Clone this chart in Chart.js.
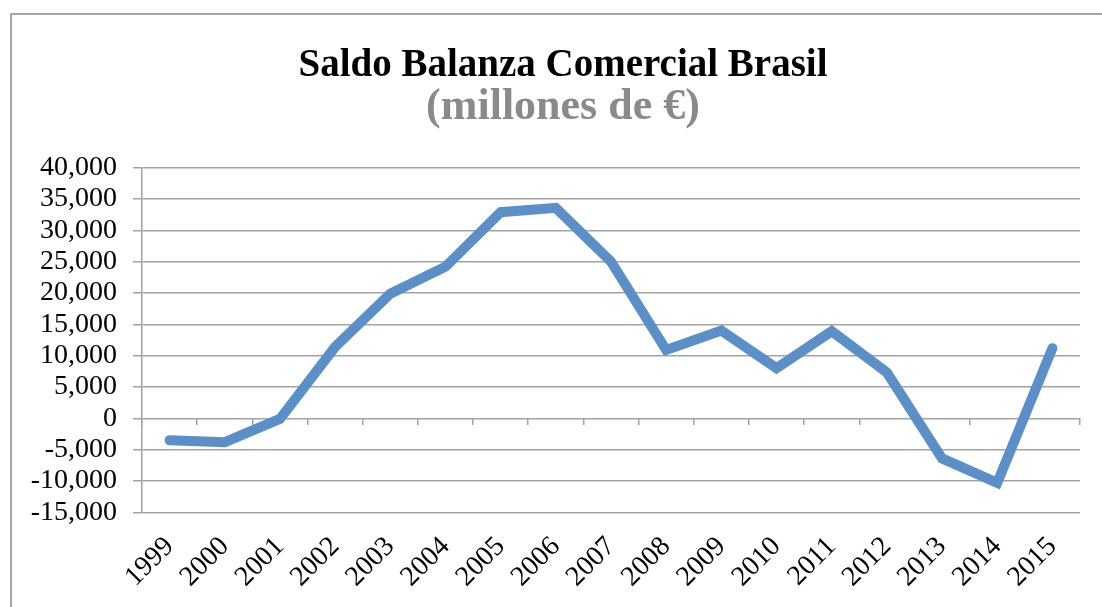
<!DOCTYPE html>
<html><head><meta charset="utf-8">
<style>
html,body{margin:0;padding:0;background:#fff;overflow:hidden;width:1102px;height:607px;}
#frame{position:absolute;left:10px;top:13px;width:1200px;height:700px;border:2px solid #a6a6a6;box-sizing:border-box;}
#wrap{position:absolute;left:0;top:0;width:1106px;height:607px;}
</style>
<script src="https://cdn.jsdelivr.net/npm/chart.js@4/dist/chart.umd.min.js"></script>
</head><body>
<div id="frame"></div>
<div id="wrap"><canvas id="c" width="1106" height="607"></canvas></div>
<script>
const years = ['1999','2000','2001','2002','2003','2004','2005','2006','2007','2008','2009','2010','2011','2012','2013','2014','2015'];
const saldo = [-3500,-3800,-100,11400,19900,24200,32900,33600,25000,10900,14000,8000,13900,7300,-6400,-10300,11200];
const yMin = -15000;
const yMax = 40000;
const yStep = 5000;
const titleText = 'Saldo Balanza Comercial Brasil';
const subtitleText = '(millones de €)';

const gridColor = '#a3a3a3';
const tickFont = {family:'Liberation Serif', size:28};

new Chart(document.getElementById('c').getContext('2d'), {
  type: 'line',
  data: {
    labels: years,
    datasets: [{
      data: saldo,
      borderColor: '#5a8fc8',
      borderWidth: 10,
      pointRadius: 0,
      tension: 0,
      borderCapStyle: 'round',
      borderJoinStyle: 'miter',
      xAxisID: 'x',
      yAxisID: 'y'
    }]
  },
  options: {
    responsive: false,
    animation: false,
    layout: {padding: {left: 20, right: 0, top: 0, bottom: 0}},
    plugins: {
      legend: {display: false},
      tooltip: {enabled: false},
      title: {display: true, text: titleText, color: '#000',
        font: {family: 'Liberation Serif', size: 39, weight: 'bold', lineHeight: 1},
        padding: {top: 46.5, bottom: 0}},
      subtitle: {display: true, text: subtitleText, color: '#8a8a8a',
        font: {family: 'Liberation Serif', size: 44, weight: 'bold', lineHeight: 1},
        padding: {top: 0.5, bottom: 37.7}}
    },
    scales: {
      y: {
        min: yMin, max: yMax,
        ticks: {stepSize: yStep, autoSkip: false, font: tickFont, color: '#000', padding: 16,
          callback: v => v.toLocaleString('en-US')},
        grid: {color: gridColor, lineWidth: 1.5, tickLength: 9},
        border: {display: true, color: gridColor, width: 1.5},
        afterFit(s) { s.width = 122; }
      },
      yr: {
        type: 'linear',
        position: 'right',
        display: true,
        grid: {display: false},
        border: {display: false},
        ticks: {display: false},
        afterFit(s) { s.width = 26; }
      },
      x: {
        type: 'category',
        offset: true,
        grid: {display: false},
        border: {display: false},
        ticks: {minRotation: 45, maxRotation: 45, autoSkip: false, font: tickFont, color: '#000', padding: 10},
        afterFit(s) { s.height = 94.7; }
      },
      x0: {
        type: 'category',
        offset: true,
        position: {y: 0},
        grid: {offset: true, drawOnChartArea: false, drawTicks: true, tickLength: 7, color: gridColor, lineWidth: 1.5},
        border: {display: false},
        ticks: {display: false}
      }
    }
  }
});
</script>
</body></html>
